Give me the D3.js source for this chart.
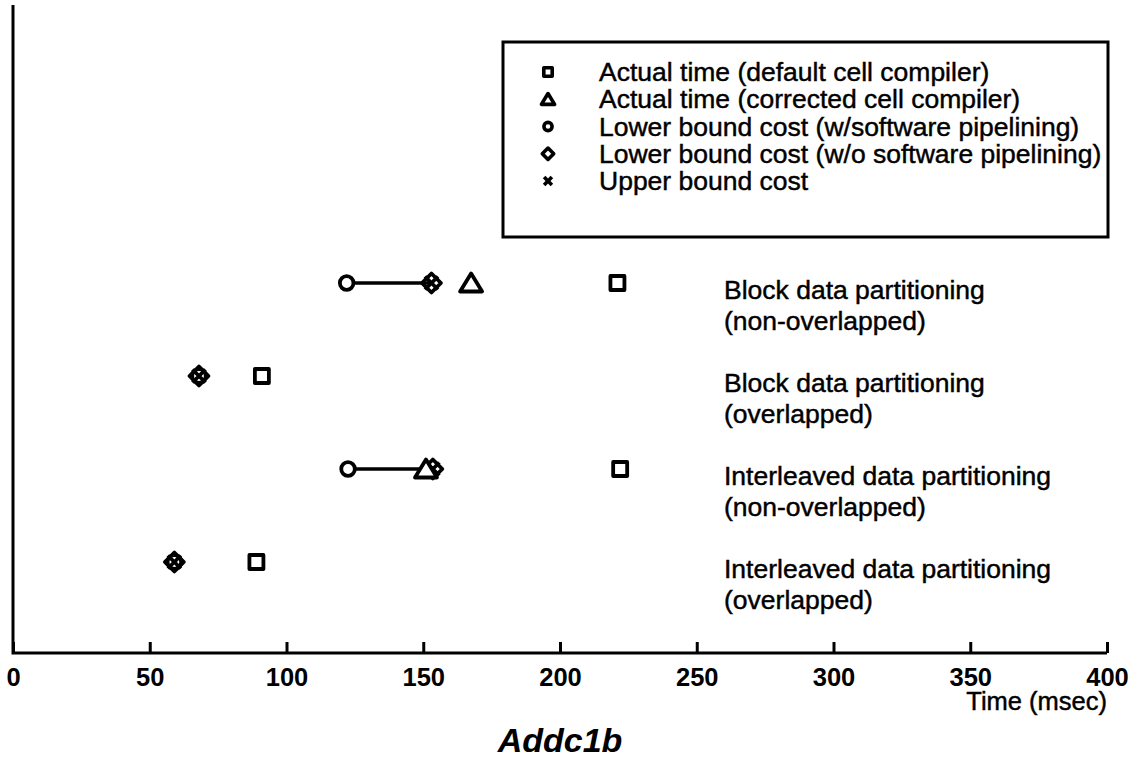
<!DOCTYPE html>
<html>
<head>
<meta charset="utf-8">
<script src="https://cdn.jsdelivr.net/npm/d3@7"></script>
<style>
html,body{margin:0;padding:0;background:#fff;}
svg{display:block;font-family:"Liberation Sans",Arial,Helvetica,sans-serif;}
</style>
</head>
<body>
<svg id="chart" width="1145" height="761"></svg>
<script>
// ---- data ----
const categories = [
  ["Block data partitioning", "(non-overlapped)"],
  ["Block data partitioning", "(overlapped)"],
  ["Interleaved data partitioning", "(non-overlapped)"],
  ["Interleaved data partitioning", "(overlapped)"]
];
const actualDefault   = [221, 91, 222, 89];
const actualCorrected = [167.5, null, 151, null];
const lowerWithPipe   = [122, 68, 122.5, 59];
const lowerWithoutPipe= [153, 68, 153.5, 59];
const upperBound      = [153, 68, 153.5, 59];
const xTicks = [0, 50, 100, 150, 200, 250, 300, 350, 400];
const legendLabels = [
  "Actual time (default cell compiler)",
  "Actual time (corrected cell compiler)",
  "Lower bound cost (w/software pipelining)",
  "Lower bound cost (w/o software pipelining)",
  "Upper bound cost"
];
const legendShapes = ["square", "triangle", "circle", "diamond", "cross"];
const xTitle = "Time (msec)";
const chartTitle = "Addc1b";

// ---- layout ----
const svg = d3.select("#chart");
const axisY = 653, axisX = 13;
const x = d3.scaleLinear().domain([0, 400]).range([13, 1107]);
const y = d3.scalePoint().domain(d3.range(categories.length)).range([283, 562]);
const TXT_STROKE = 0.45;

function shapePath(shape, s) {
  switch (shape) {
    case "square": { const h = 7 * s; return `M${-h},${-h}H${h}V${h}H${-h}Z`; }
    case "triangle": { const w = 11 * s, h = 8.5 * s; return `M0,${-h - 1 * s}L${w},${h}L${-w},${h}Z`; }
    case "circle": { const r = 6.8 * s; return `M${r},0A${r},${r} 0 1 1 ${-r},0A${r},${r} 0 1 1 ${r},0Z`; }
    case "diamond": { const h = 9.5 * s; return `M0,${-h}L${h},0L0,${h}L${-h},0Z`; }
    case "cross": { const h = 6.5 * s; return `M${-h},${-h}L${h},${h}M${h},${-h}L${-h},${h}`; }
  }
}

const g = svg.append("g");

// axes
const xAxis = d3.axisBottom(x).tickValues(xTicks).tickSize(0).tickFormat(d3.format("d"));
const ax = g.append("g").attr("transform", `translate(0,${axisY})`).call(xAxis);
ax.select(".domain").remove();
ax.selectAll(".tick text")
  .attr("y", 33).attr("dy", 0)
  .attr("font-size", 25.5).attr("font-weight", "bold")
  .attr("font-family", '"Liberation Sans",Arial,sans-serif').attr("fill", "#000");
ax.selectAll(".tick").append("line")
  .attr("x1", 0).attr("x2", 0).attr("y1", 0).attr("y2", -11)
  .attr("stroke", "#000").attr("stroke-width", 3);
ax.selectAll(".tick").filter(d => d === 0).select("line").remove();

g.append("path")
  .attr("d", `M${axisX},5V${axisY}H${x(400)}`)
  .attr("fill", "none").attr("stroke", "#000").attr("stroke-width", 3);

g.append("text").attr("x", x(400)).attr("y", 710).attr("text-anchor", "end")
  .attr("font-size", 25.5).attr("stroke", "#000").attr("stroke-width", TXT_STROKE)
  .text(xTitle);

g.append("text").attr("x", 560).attr("y", 752).attr("text-anchor", "middle")
  .attr("font-size", 34).attr("font-weight", "bold").attr("font-style", "italic")
  .text(chartTitle);

// range lines
const idx = d3.range(categories.length);
g.selectAll(".rng").data(idx.filter(i => lowerWithPipe[i] !== upperBound[i]))
  .join("line")
  .attr("x1", i => x(lowerWithPipe[i])).attr("x2", i => x(upperBound[i]))
  .attr("y1", i => y(i)).attr("y2", i => y(i))
  .attr("stroke", "#000").attr("stroke-width", 3.5);

function drawSeries(vals, shape, fill) {
  g.selectAll(".m-" + shape).data(idx.filter(i => vals[i] != null))
    .join("path")
    .attr("transform", i => `translate(${x(vals[i])},${y(i)})`)
    .attr("d", shapePath(shape, 1))
    .attr("fill", shape === "cross" ? "none" : fill)
    .attr("stroke", "#000").attr("stroke-width", 3.8)
    .attr("stroke-linejoin", "round");
}
drawSeries(lowerWithPipe, "circle", "#fff");
drawSeries(lowerWithoutPipe, "diamond", "none");
drawSeries(upperBound, "cross", "none");
drawSeries(actualCorrected, "triangle", "#fff");
drawSeries(actualDefault, "square", "#fff");

// category labels
const lab = g.selectAll(".cat").data(idx).join("text")
  .attr("x", 724).attr("y", i => y(i) + 16).attr("font-size", 26.5)
  .attr("stroke", "#000").attr("stroke-width", TXT_STROKE);
lab.append("tspan").attr("x", 724).text(i => categories[i][0]);
lab.append("tspan").attr("x", 724).attr("dy", 31).text(i => categories[i][1]);

// legend
g.append("rect").attr("x", 503).attr("y", 42).attr("width", 605).attr("height", 195)
  .attr("fill", "#fff").attr("stroke", "#000").attr("stroke-width", 3);
const ly = d3.scalePoint().domain(d3.range(legendLabels.length)).range([72, 181]);
const li = g.selectAll(".leg").data(d3.range(legendLabels.length)).join("g")
  .attr("transform", i => `translate(0,${ly(i)})`);
li.append("path").attr("transform", "translate(548,0)")
  .attr("d", i => shapePath(legendShapes[i], 0.6))
  .attr("fill", "none").attr("stroke", "#000").attr("stroke-width", 3.6)
  .attr("stroke-linejoin", "round");
li.append("text").attr("x", 599).attr("y", 9).attr("font-size", 26.5)
  .attr("stroke", "#000").attr("stroke-width", TXT_STROKE)
  .text(i => legendLabels[i]);
</script>
</body>
</html>
